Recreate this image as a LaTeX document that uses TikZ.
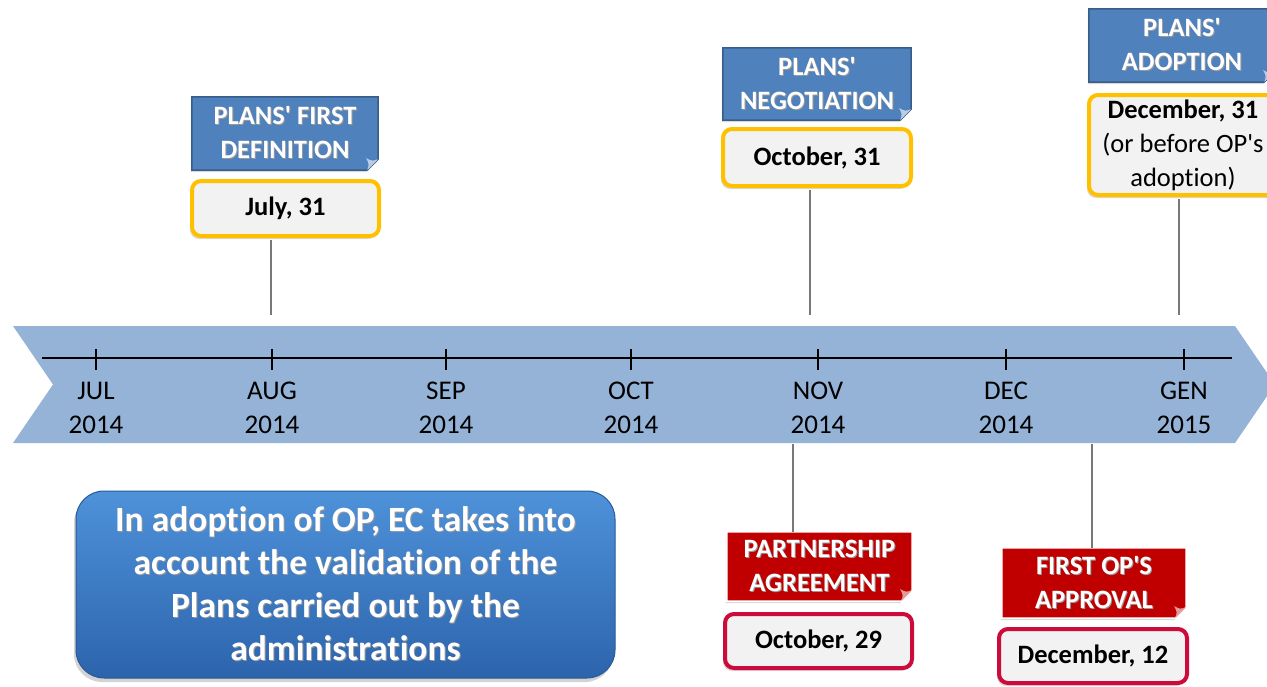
\documentclass[tikz,border=0pt]{standalone}
\usepackage{fontspec}
\setmainfont{Carlito}[RawFeature={-liga;-clig;-dlig;-calt}]
\usetikzlibrary{shadows,backgrounds}
\definecolor{bandblue}{RGB}{149,179,215}
\definecolor{tagblue}{RGB}{79,129,189}
\definecolor{tagblueline}{RGB}{56,93,138}
\definecolor{tagred}{RGB}{192,0,0}
\definecolor{datered}{RGB}{204,10,60}
\definecolor{dateyellow}{RGB}{255,192,0}
\definecolor{datefill}{RGB}{242,242,242}
\definecolor{boxtop}{RGB}{78,146,218}
\definecolor{boxbot}{RGB}{44,100,172}
\definecolor{boxline}{RGB}{40,90,150}
\definecolor{connector}{RGB}{120,120,120}
\newcommand\q{\textquotesingle}
\newcommand\sh[1]{\leavevmode\rlap{\kern1pt\raisebox{-1pt}{\textcolor{black!40}{#1}}}#1}
\newcommand\tagfill[3]{%
  \fill[#2, draw=#3, line width=1.5pt, drop shadow={opacity=0.3,shadow xshift=-1pt,shadow yshift=-2pt}]
    (#1.north west) -- (#1.north east) -- ([yshift=11pt]#1.south east)
    -- ([xshift=-11pt]#1.south east) -- (#1.south west) -- cycle;
  \fill[#2!40!white] ([yshift=11pt]#1.south east) -- ([xshift=-11pt]#1.south east)
    .. controls ([xshift=-9pt,yshift=6pt]#1.south east) .. ([xshift=-12pt,yshift=12pt]#1.south east)
    .. controls ([xshift=-6pt,yshift=9pt]#1.south east) .. cycle;
}
\begin{document}
\begin{tikzpicture}[x=1pt,y=-1pt,
  tagnode/.style={minimum width=#1, inner sep=0pt, align=center, text=white,
    font=\fontsize{26.5}{34}\selectfont\bfseries},
  datebox/.style={draw=#1, line width=4pt, fill=datefill, rounded corners=9pt,
    inner sep=0pt, align=center, font=\fontsize{26.5}{34}\selectfont\bfseries,
    drop shadow={opacity=0.3,shadow xshift=-2pt,shadow yshift=-3pt}},
  month/.style={align=center, inner sep=0pt, font=\fontsize{27}{34}\selectfont},
  conn/.style={draw=connector, line width=1.5pt}]
\useasboundingbox (0,0) rectangle (1267,686);

% band arrow
\fill[bandblue] (13,326) -- (1235,326) -- (1275,384.5) -- (1235,443) -- (13,443) -- (53,384.5) -- cycle;
\draw[line width=2pt] (42,358) -- (1232,358);
\foreach \x/\m/\yr/\n in {96/JUL/2014/m1, 272/AUG/2014/m2, 446/SEP/2014/m3, 631/OCT/2014/m4, 818/NOV/2014/m5, 1006/DEC/2014/m6, 1184/GEN/2015/m7}{
  \draw[line width=1.5pt] (\x,349) -- (\x,370);
  \node[month] (\n) at (\x,408) {\m\\\yr};
}

% tags (blue)
\node[tagnode=186pt, minimum height=73pt] (t1) at (285,133.5) {\sh{PLANS\q{} FIRST}\\\sh{DEFINITION}};
\node[tagnode=188pt, minimum height=72pt] (t2) at (817,84) {\sh{PLANS\q}\\\sh{NEGOTIATION}};
\node[tagnode=186pt, minimum height=73pt] (t3) at (1182,45.5) {\sh{PLANS\q}\\\sh{ADOPTION}};
% tags (red)
\node[tagnode=185pt, minimum height=69pt] (r1) at (819.5,566.5) {\sh{PARTNERSHIP}\\\sh{AGREEMENT}};
\node[tagnode=184pt, minimum height=70pt] (r2) at (1094,583) {\sh{FIRST OP\q{}S}\\\sh{APPROVAL}};
\begin{scope}[on background layer]
  \tagfill{t1}{tagblue}{tagblueline}
  \tagfill{t2}{tagblue}{tagblueline}
  \tagfill{t3}{tagblue}{tagblueline}
  \tagfill{r1}{tagred}{white}
  \tagfill{r2}{tagred}{white}
\end{scope}

% date boxes
\node[datebox=dateyellow, minimum width=187pt, minimum height=55pt] (d1) at (285.5,208.5) {July, 31};
\node[datebox=dateyellow, minimum width=188pt, minimum height=57pt] (d2) at (817,157.5) {October, 31};
\node[datebox=dateyellow, minimum width=188pt, minimum height=100pt] (d3) at (1183,145) {December, 31\\\mdseries(or before OP\q{}s\\\mdseries adoption)};
\node[datebox=datered, minimum width=187pt, minimum height=54pt] (d4) at (818.5,641) {October, 29};
\node[datebox=datered, minimum width=188pt, minimum height=54pt] (d5) at (1093,656) {December, 12};

% connectors
\coordinate (a1) at (271,315);
\coordinate (a2) at (810,315);
\coordinate (a3) at (1179,315);
\coordinate (b1) at (793,444);
\coordinate (b2) at (1092,444);
\draw[conn] ([yshift=-2pt]d1.south -| a1) -- (a1);
\draw[conn] ([yshift=-2pt]d2.south -| a2) -- (a2);
\draw[conn] ([yshift=-2pt]d3.south -| a3) -- (a3);
\draw[conn] (b1) -- (r1.north -| b1);
\draw[conn] (b2) -- (r2.north -| b2);

% note box
\node[rounded corners=28pt, top color=boxtop, bottom color=boxbot, draw=boxline, line width=1pt,
  minimum width=539pt, minimum height=187pt, inner sep=0pt, align=center, text=white,
  font=\fontsize{35.5}{43}\selectfont\bfseries,
  drop shadow={opacity=0.35,shadow xshift=-2pt,shadow yshift=-4pt}] (note) at (345.5,584.5)
  {\sh{In adoption of OP, EC takes into}\\\sh{account the validation of the}\\\sh{Plans carried out by the}\\\sh{administrations}};
\end{tikzpicture}
\end{document}
